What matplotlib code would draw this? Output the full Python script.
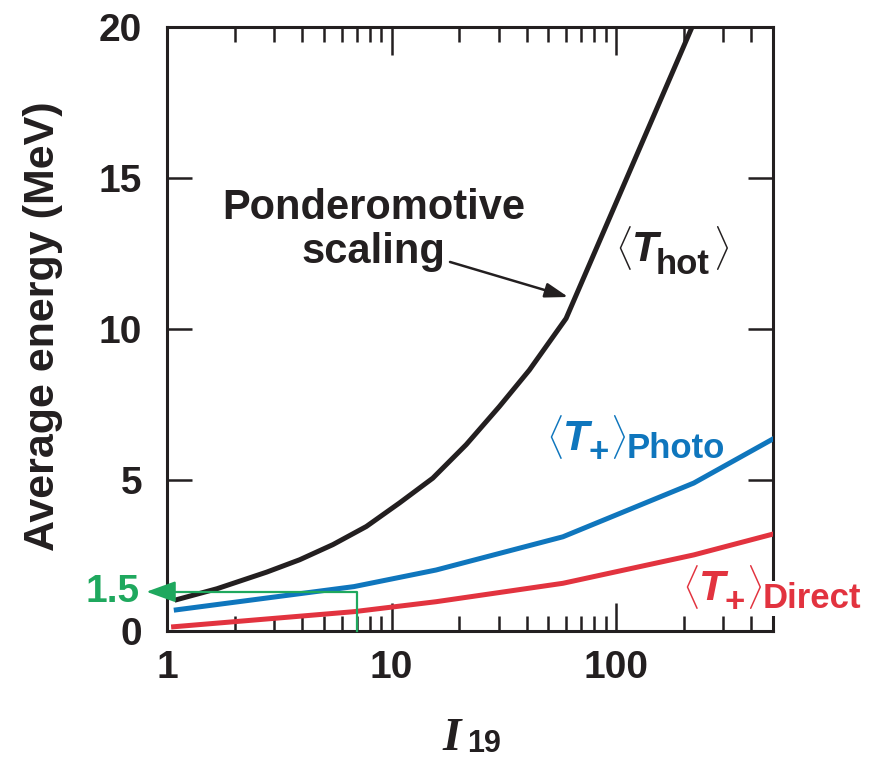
import numpy as np
import matplotlib
matplotlib.use("Agg")
import matplotlib.pyplot as plt
from matplotlib.ticker import LogLocator, FixedLocator, NullFormatter, FixedFormatter

plt.rcParams['font.family'] = ['Liberation Sans', 'DejaVu Sans']
plt.rcParams['font.weight'] = 'bold'
plt.rcParams['mathtext.fontset'] = 'cm'

# ---- data ----
x_hot = [1.108, 1.67, 2.78, 3.90, 5.48, 7.72, 10.85, 15.26, 21.5, 30.2, 41.1, 59.9, 218.0]
T_hot = [1.04, 1.40, 1.95, 2.36, 2.86, 3.46, 4.24, 5.06, 6.17, 7.43, 8.64, 10.35, 20.0]

x_photo = [1.1, 6.8, 15.8, 58.0, 222.0, 500.0]
T_photo = [0.70, 1.47, 2.02, 3.12, 4.90, 6.36]

x_direct = [1.07, 6.8, 15.8, 58.0, 222.0, 500.0]
T_direct = [0.14, 0.64, 0.97, 1.58, 2.52, 3.21]

green_x = 7.0
green_level = 1.3
green_label = "1.5"

x_ticks = [1, 10, 100]
x_ticklabels = ["1", "10", "100"]
y_ticks = [0, 5, 10, 15, 20]
y_ticklabels = ["0", "5", "10", "15", "20"]

BLACK = '#231f20'
BLUE = '#0f76bd'
RED = '#e2333f'
GREEN = '#1fa85e'

W, H = 876, 760
fig = plt.figure(figsize=(W/100, H/100), dpi=100)
ax = fig.add_axes([167/W, 1-631/H, 606/W, 604/H])

ax.plot(x_hot, T_hot, color=BLACK, lw=3.6, solid_joinstyle='round', zorder=3)
ax.plot(x_photo, T_photo, color=BLUE, lw=3.6, solid_joinstyle='round', zorder=3)
ax.plot(x_direct, T_direct, color=RED, lw=3.6, solid_joinstyle='round', zorder=3)

ax.set_xscale('log')
ax.set_xlim(1, 500)
ax.set_ylim(0, 20)

ax.xaxis.set_major_locator(FixedLocator(x_ticks))
ax.xaxis.set_major_formatter(FixedFormatter(x_ticklabels))
ax.xaxis.set_minor_locator(LogLocator(base=10, subs=np.arange(2, 10)))
ax.xaxis.set_minor_formatter(NullFormatter())
ax.yaxis.set_major_locator(FixedLocator(y_ticks))
ax.yaxis.set_major_formatter(FixedFormatter(y_ticklabels))

ax.tick_params(axis='x', which='major', direction='in', length=20, width=1.8,
               top=True, bottom=True, labelsize=28, pad=14, color=BLACK, labelcolor=BLACK)
ax.tick_params(axis='x', which='minor', direction='in', length=11, width=1.8,
               top=True, bottom=True, color=BLACK)
ax.tick_params(axis='y', which='major', direction='in', length=18, width=1.8,
               left=True, right=True, labelsize=28, pad=18, color=BLACK, labelcolor=BLACK)
for lab in ax.get_xticklabels() + ax.get_yticklabels():
    lab.set_fontweight('bold')
for s in ax.spines.values():
    s.set_linewidth(2.2)
    s.set_color(BLACK)

# green marker of the 1.5 MeV level
ax.plot([green_x, green_x, 1.0], [0, green_level, green_level], color=GREEN,
        lw=1.6, clip_on=False, zorder=4)
ax.annotate('', xy=(-0.034, green_level), xycoords=ax.get_yaxis_transform(),
            xytext=(1.0, green_level), textcoords='data',
            arrowprops=dict(arrowstyle='-|>,head_length=1.8,head_width=0.65',
                            color=GREEN, lw=1.6, shrinkA=0, shrinkB=0),
            annotation_clip=False, zorder=5)
ax.text(-0.045, green_level, green_label, transform=ax.get_yaxis_transform(),
        ha='right', va='center', color=GREEN, fontsize=28, fontweight='bold',
        clip_on=False)

# annotations
ax.text(0.341, 0.664, "Ponderomotive\nscaling", transform=ax.transAxes,
        ha='center', va='center', fontsize=30, fontweight='bold', color=BLACK,
        linespacing=1.12)
ax.annotate('', xy=(0.662, 0.553), xycoords='axes fraction',
            xytext=(0.467, 0.611), textcoords='axes fraction',
            arrowprops=dict(arrowstyle='-|>,head_length=1.4,head_width=0.45',
                            color=BLACK, lw=1.8, shrinkA=0, shrinkB=0))


def piece(s, px, py, size, color, va='baseline', style='normal', **kw):
    return fig.text(px/W, 1-py/H, s, ha='left', va=va, fontsize=size,
                    fontweight='bold', fontstyle=style, color=color, **kw)


def bracket_label(x0, ybase, color, sub, sub_dx, plus=False, bbox=None):
    # x0: left of the opening bracket, ybase: baseline of T (pixels)
    yc = ybase - 13
    piece(r'$\langle$', x0, yc, 27, color, va='center')
    piece('T', x0 + 17, ybase, 31, color, style='italic')
    if plus:
        piece('+', x0 + 43, ybase + 12, 25, color)
        piece(r'$\rangle$', x0 + 64, yc, 27, color, va='center')
        piece(sub, x0 + 81, ybase + 8, 25, color, bbox=bbox)
    else:
        piece(sub, x0 + 41, ybase + 13, 25, color)
        piece(r'$\rangle$', x0 + sub_dx, yc, 27, color, va='center')


bracket_label(615, 261, BLACK, 'hot', 98)
bracket_label(546, 450, BLUE, 'Photo', 0, plus=True)
bracket_label(682, 600, RED, 'Direct', 0, plus=True,
              bbox=dict(facecolor='white', edgecolor='none', pad=0.5))

# axis labels
fig.text(43/W, 1-326/H, 'Average energy (MeV)', rotation=90, ha='center',
         va='center', fontsize=31, fontweight='bold', color=BLACK)
fig.text(442/W, 1-750/H, 'I', ha='left', va='baseline',
         family=['Liberation Serif', 'DejaVu Serif'], style='italic',
         fontweight='bold', fontsize=34, color=BLACK)
fig.text(467/W, 1-752/H, '19', ha='left', va='baseline',
         fontsize=22, fontweight='bold', color=BLACK)

fig.savefig('out.png', dpi=100)
